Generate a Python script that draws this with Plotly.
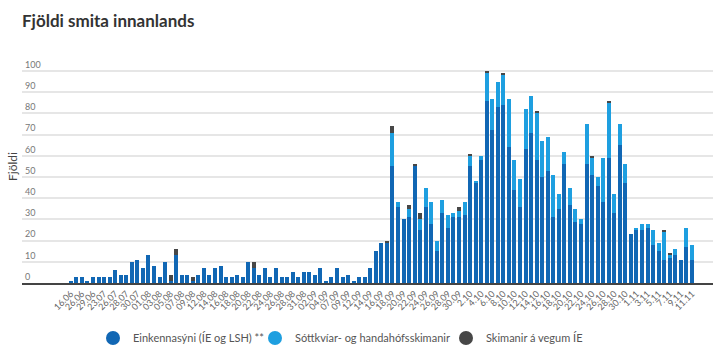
import plotly.graph_objects as go

# ---- data -------------------------------------------------------------
dates = ["16.06", "23.06", "26.06", "27.06", "29.06", "15.07", "23.07", "24.07",
         "26.07", "27.07", "28.07", "29.07", "30.07", "31.07", "01.08", "02.08",
         "03.08", "04.08", "05.08", "06.08", "07.08", "08.08", "09.08", "11.08",
         "12.08", "13.08", "14.08", "15.08", "16.08", "17.08", "18.08", "19.08",
         "20.08", "21.08", "22.08", "23.08", "24.08", "25.08", "26.08", "27.08",
         "28.08", "30.08", "31.08", "01.09", "02.09", "03.09", "04.09", "06.09",
         "07.09", "08.09", "09.09", "11.09", "12.09", "13.09", "14.09", "15.09",
         "16.09", "17.09", "18.09", "19.09", "20.09", "21.09", "22.09", "23.09",
         "24.09", "25.09", "26.09", "27.09", "28.09", "29.09", "30.09",
         "1.10", "2.10", "3.10", "4.10", "5.10", "6.10", "7.10", "8.10", "9.10",
         "10.10", "11.10", "12.10", "13.10", "14.10", "15.10", "16.10", "17.10",
         "18.10", "19.10", "20.10", "21.10", "22.10", "23.10", "24.10", "25.10",
         "26.10", "27.10", "28.10", "29.10", "30.10", "31.10",
         "1.11", "2.11", "3.11", "4.11", "5.11", "6.11", "7.11", "8.11", "9.11",
         "10.11", "11.11"]

einkennasyni = [1, 3, 3, 1, 3, 3, 3, 3, 6, 4, 4, 10, 11, 7, 13, 8,
                3, 10, 1, 13, 4, 4, 1, 4, 7, 4, 7, 8, 3, 3, 4, 3,
                10, 7, 4, 7, 3, 7, 3, 3, 5, 3, 5, 5, 4, 7, 1, 3,
                7, 3, 4, 1, 3, 3, 7, 15, 19, 19, 55, 36, 30, 31, 55, 25,
                36, 28, 15, 33, 26, 31, 31, 32, 55, 47, 58, 86, 72, 83, 84, 64,
                44, 36, 63, 71, 58, 50, 53, 31, 35, 56, 37, 29, 28, 56, 51, 46,
                38, 59, 33, 65, 47, 23, 25, 25, 26, 18, 15, 11, 12, 13, 11, 17, 11]

sottkvi = [0, 0, 0, 0, 0, 0, 0, 0, 0, 0, 0, 0, 0, 0, 0, 0,
           0, 0, 0, 0, 0, 0, 0, 0, 0, 0, 0, 0, 0, 0, 0, 0,
           0, 0, 0, 0, 0, 0, 0, 0, 0, 0, 0, 0, 0, 0, 0, 0,
           0, 0, 0, 0, 0, 0, 0, 0, 0, 0, 16, 2, 0, 4, 0, 5,
           9, 10, 5, 6, 6, 2, 3, 6, 5, 1, 2, 13, 15, 12, 14, 23,
           14, 13, 19, 17, 22, 17, 16, 20, 7, 6, 8, 6, 2, 19, 8, 4,
           21, 26, 9, 10, 9, 0, 1, 3, 2, 7, 4, 13, 1, 3, 0, 9, 7]

ie_skimun = [0, 0, 0, 0, 0, 0, 0, 0, 0, 0, 0, 0, 0, 0, 0, 0,
             0, 0, 3, 3, 0, 0, 2, 0, 0, 0, 0, 0, 0, 0, 0, 0,
             0, 3, 0, 0, 0, 0, 0, 0, 0, 0, 0, 0, 0, 0, 0, 0,
             0, 0, 0, 0, 0, 0, 0, 0, 0, 1, 3, 0, 0, 2, 1, 3,
             0, 0, 0, 0, 0, 0, 2, 0, 1, 0, 0, 1, 0, 0, 1, 0,
             0, 0, 0, 0, 1, 0, 0, 0, 0, 0, 0, 0, 0, 0, 1, 0,
             0, 1, 0, 0, 0, 0, 0, 0, 0, 0, 0, 1, 1, 0, 0, 0, 0]

series_names = ["Einkennasýni (ÍE og LSH) **",
                "Sóttkvíar- og handahófsskimanir",
                "Skimanir á vegum ÍE"]
series_colors = ["#1167b4", "#1e9fe0", "#474747"]
y_ticks = [0, 10, 20, 30, 40, 50, 60, 70, 80, 90, 100]

FONT = "Lato"
legend_ids = ["legend", "legend2", "legend3"]
legend_left_px = [93, 255, 446]

fig = go.Figure()
for vals, name, col in zip([einkennasyni, sottkvi, ie_skimun], series_names, series_colors):
    fig.add_trace(go.Bar(x=dates, y=vals, name=name, marker_color=col,
                         marker_line_width=0, showlegend=False))
# legend entries with round markers, one small legend per entry
for name, col, lid in zip(series_names, series_colors, legend_ids):
    fig.add_trace(go.Scatter(x=[None], y=[None], mode="markers", name=name,
                             legend=lid, showlegend=True,
                             marker=dict(symbol="circle", size=14, color=col)))

legend_common = dict(orientation="h", xref="container", yref="container",
                     xanchor="left", y=1 - 338 / 354, yanchor="middle",
                     bgcolor="rgba(0,0,0,0)",
                     font=dict(family=FONT, size=11, color="#555"))
fig.update_layout(
    width=713, height=354,
    margin=dict(l=22, r=0, t=50, b=71),
    barmode="stack", bargap=0.28,
    plot_bgcolor="white", paper_bgcolor="white",
    font=dict(family=FONT, color="#555"),
    title=dict(text="<b>Fjöldi smita innanlands</b>", x=22 / 713, xanchor="left",
               y=1 - 21 / 354, yanchor="middle",
               font=dict(family=FONT, size=17, color="#333")),
    legend=dict(x=legend_left_px[0] / 713, **legend_common),
    legend2=dict(x=legend_left_px[1] / 713, **legend_common),
    legend3=dict(x=legend_left_px[2] / 713, **legend_common),
)
fig.update_xaxes(type="category", range=[-8.8, 115.8],
                 tickmode="array", tickvals=dates[::2], ticktext=dates[::2],
                 tickangle=-45, tickfont=dict(family=FONT, size=9, color="#666"),
                 showline=True, linecolor="#444", linewidth=2, ticks="",
                 showgrid=False, fixedrange=True)
fig.update_yaxes(range=[0, (282.6 - 50) / 2.116], tickmode="array", tickvals=y_ticks,
                 ticklabelposition="inside top",
                 tickfont=dict(family=FONT, size=9, color="#777"),
                 showgrid=True, gridcolor="#e6e6e6", gridwidth=1.5,
                 zeroline=False, showline=False, ticks="",
                 title=dict(text="Fjöldi", standoff=4,
                            font=dict(family=FONT, size=12, color="#444")),
                 automargin=False)

fig.write_html("out.html")
